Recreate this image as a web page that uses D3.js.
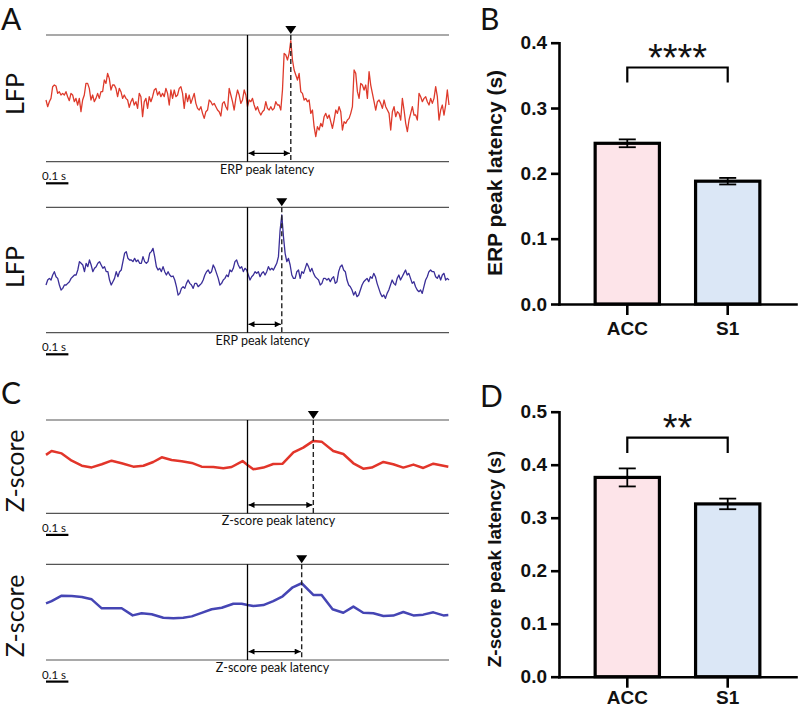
<!DOCTYPE html>
<html>
<head>
<meta charset="utf-8">
<script src="https://cdn.jsdelivr.net/npm/d3@7"></script>
<style>
body { margin: 0; background: #fff; }
svg { display: block; }
</style>
</head>
<body>
<script>
// time window of the example traces (s), stimulus at 0
var traceWindow = [-0.9, 0.9];

// ACC example LFP trace (arbitrary units, evenly sampled over the window)
var accLfp = [
  0,-20,-5,5,40,45,42,20,25,15,
  20,15,25,10,-2,20,15,-5,5,-15,
  5,-35,0,15,50,50,35,0,15,-5,
  5,20,5,25,25,60,50,80,65,30,
  45,45,35,10,35,25,5,15,5,0,
  -22,-5,5,-15,-5,-25,20,10,-50,-5,
  5,-25,10,-5,10,30,35,15,25,10,
  20,10,35,20,-15,30,5,30,10,15,
  35,40,20,-25,20,-5,15,-10,5,20,
  -10,-25,-30,-20,-40,-55,-35,-30,0,-5,
  -15,-10,-20,-30,-35,-48,-10,-5,-20,-30,
  35,15,-5,-30,5,30,15,-10,0,30,
  15,-20,0,
  -5,5,-15,-30,-20,-35,-45,-35,-30,-5,
  -25,-30,-20,-30,-25,-5,-15,-15,-30,30,
  140,135,120,140,178,120,90,75,60,80,
  25,20,0,5,-5,0,-40,-30,-80,-110,
  -80,-90,-70,-80,-50,-40,-55,-45,-65,-85,
  -60,-30,-40,-20,-35,-90,-65,-70,-60,-55,
  -40,-20,90,80,25,5,50,45,30,45,
  5,85,45,20,-5,-30,-5,0,-10,-25,
  0,-20,-30,-40,-90,-35,-20,-50,-35,-40,
  -60,5,-30,-70,-95,-60,-40,-20,-45,-45,
  -60,20,10,-5,5,10,-5,-15,5,-10,
  5,40,10,-60,-30,-15,-45,-15,30,-15
];

// S1 example LFP trace
var s1Lfp = [
  -25,-10,-5,-10,5,15,0,-5,-25,-40,
  -35,-25,-25,-20,-15,-5,0,5,5,20,
  45,40,35,15,40,30,50,35,15,25,
  30,40,45,35,25,30,15,15,-10,-25,
  -15,-5,15,0,15,20,45,70,75,55,
  50,50,45,55,45,50,40,40,60,45,
  40,45,70,75,85,60,30,20,25,15,
  30,15,5,15,5,0,2,-10,-30,-55,
  -50,-35,-30,-35,-20,-10,-20,-25,-35,-20,
  -20,-30,-25,-20,-10,5,15,20,10,15,
  35,25,10,-5,-25,-20,-10,-5,5,0,
  20,15,25,45,50,35,25,30,15,25,
  20,5,
  -10,0,5,15,10,15,0,10,15,5,
  15,30,20,25,20,30,40,60,140,185,
  120,70,45,55,35,5,-5,-5,15,20,
  -5,15,10,25,40,30,15,25,10,0,
  -5,-10,-25,-20,-5,-5,-10,-5,-15,-5,
  0,-20,-15,15,30,35,20,15,-10,-25,
  -30,-40,-55,-45,-60,-55,-40,-25,-15,-10,
  -5,-15,0,-5,10,0,-20,-35,-50,-60,
  -55,-65,-50,-40,-25,-10,-20,-25,-5,5,
  -10,0,10,20,5,10,-5,-20,-15,-30,
  -40,-45,-40,-50,-30,-10,0,15,20,15,
  15,0,-5,5,-10,5,10,-10,-5,-10
];

// example Z-score traces (time in s, z value)
var accZTime = [-0.90,-0.875,-0.83,-0.785,-0.74,-0.696,-0.651,-0.607,-0.562,-0.51,
  -0.465,-0.421,-0.383,-0.339,-0.294,-0.249,-0.205,-0.153,-0.108,-0.071,
  -0.022,0.0,0.026,0.071,0.115,0.157,0.205,0.249,0.294,0.331,
  0.383,0.428,0.473,0.517,0.555,0.607,0.651,0.696,0.741,0.785,0.83,0.897];
var accZ = [0.63,0.84,0.71,0.32,0.05,-0.04,0.13,0.32,0.18,0.00,
  0.05,0.25,0.50,0.36,0.29,0.20,0.00,-0.02,-0.09,-0.02,
  0.30,0.09,-0.14,-0.05,0.14,0.16,0.77,1.02,1.38,1.34,
  0.84,0.68,0.18,-0.11,-0.05,0.25,0.13,-0.05,0.11,-0.07,0.16,0.00];

var s1ZTime = [-0.90,-0.875,-0.83,-0.785,-0.74,-0.696,-0.651,-0.607,-0.562,-0.513,
  -0.473,-0.428,-0.376,-0.331,-0.287,-0.249,-0.205,-0.16,-0.115,-0.063,
  -0.026,0,0.026,0.071,0.115,0.157,0.202,0.242,0.294,0.331,
  0.38,0.428,0.473,0.517,0.562,0.607,0.651,0.696,0.741,0.785,0.83,0.875,0.897];
var s1Z = [0.46,0.58,0.86,0.84,0.79,0.67,0.20,0.20,0.20,-0.17,
  -0.06,-0.11,-0.29,-0.32,-0.29,-0.22,-0.04,0.15,0.23,0.44,
  0.44,0.37,0.32,0.37,0.58,0.83,1.30,1.51,0.90,0.90,
  0.15,-0.03,0.29,-0.03,-0.06,-0.20,-0.18,0.01,-0.17,-0.13,-0.01,-0.17,-0.15];

// bar charts
var groups = ["ACC", "S1"];
var erpMean = [0.246, 0.188];
var erpSem = [0.006, 0.005];
var erpTicks = [0, 0.1, 0.2, 0.3, 0.4];
var zMean = [0.376, 0.326];
var zSem = [0.017, 0.010];
var zTicks = [0, 0.1, 0.2, 0.3, 0.4, 0.5];


var width = 798, height = 709;
var svg = d3.select("body").append("svg")
    .attr("width", width)
    .attr("height", height);

var defs = svg.append("defs");
defs.append("marker")
    .attr("id", "head")
    .attr("viewBox", "0 0 10 10")
    .attr("refX", 10).attr("refY", 5)
    .attr("markerUnits", "userSpaceOnUse")
    .attr("markerWidth", 7).attr("markerHeight", 6)
    .attr("orient", "auto-start-reverse")
  .append("path")
    .attr("d", "M0,0L10,5L0,10z")
    .attr("fill", "#000");

var labelFont = "Lato, 'Open Sans', sans-serif";
var barFont = "Liberation Sans, Arial, Helvetica, sans-serif";

var x = d3.scaleLinear().domain(traceWindow).range([46, 449]);

function timesOf(values) {
  var step = (traceWindow[1] - traceWindow[0]) / (values.length - 1);
  return values.map((v, i) => traceWindow[0] + i * step);
}

var traces = [
  {t: timesOf(accLfp), v: accLfp, top: 35, bottom: 161.7, dom: [-185, 195],
   color: "#de3a2b", lw: 1.3, label: "LFP", labelY: 94, note: "ERP peak latency"},
  {t: timesOf(s1Lfp), v: s1Lfp, top: 207.3, bottom: 332.7, dom: [-168, 208],
   color: "#3a2e98", lw: 1.3, label: "LFP", labelY: 267, note: "ERP peak latency"},
  {t: accZTime, v: accZ, top: 420, bottom: 513.3, dom: [-2.5, 2.5],
   color: "#e2352a", lw: 2.5, label: "Z-score", labelY: 471, note: "Z-score peak latency"},
  {t: s1ZTime, v: s1Z, top: 564.3, bottom: 660, dom: [-2.5, 2.5],
   color: "#4545b4", lw: 2.5, label: "Z-score", labelY: 616, note: "Z-score peak latency"}
];

traces.forEach(function (p) {
  var y = d3.scaleLinear().domain(p.dom).range([p.bottom, p.top]);
  var g = svg.append("g");
  var pts = p.v.map((v, i) => ({t: p.t[i], v: v}));
  var peakT = p.t[d3.maxIndex(p.v)];
  var xp = x(peakT), x0 = x(0);

  // frame lines
  g.selectAll("line.frame")
    .data([p.top, p.bottom])
    .enter().append("line")
      .attr("x1", x.range()[0]).attr("x2", x.range()[1])
      .attr("y1", d => d).attr("y2", d => d)
      .attr("stroke", "#555").attr("stroke-width", 1.2);

  // trace
  g.append("path")
      .datum(pts)
      .attr("fill", "none")
      .attr("stroke", p.color)
      .attr("stroke-width", p.lw)
      .attr("stroke-linejoin", "round")
      .attr("d", d3.line().x(d => x(d.t)).y(d => y(d.v)));

  // stimulus onset
  g.append("line")
      .attr("x1", x0).attr("x2", x0)
      .attr("y1", p.top).attr("y2", p.bottom)
      .attr("stroke", "#000").attr("stroke-width", 1.3);

  // peak marker
  g.append("line")
      .attr("x1", xp).attr("x2", xp)
      .attr("y1", p.top).attr("y2", p.bottom)
      .attr("stroke", "#222").attr("stroke-width", 1.4)
      .attr("stroke-dasharray", "5,3");
  g.append("path")
      .attr("d", `M${xp - 5.5},${p.top - 9}L${xp + 5.5},${p.top - 9}L${xp},${p.top - 1}z`)
      .attr("fill", "#000");

  // latency arrow
  g.append("line")
      .attr("x1", x0 + 1).attr("x2", xp - 1)
      .attr("y1", p.bottom - 8.4).attr("y2", p.bottom - 8.4)
      .attr("stroke", "#000").attr("stroke-width", 1.2)
      .attr("marker-start", "url(#head)")
      .attr("marker-end", "url(#head)");

  g.append("text")
      .attr("x", (x0 + xp) / 2 - 2)
      .attr("y", p.bottom + 12)
      .attr("text-anchor", "middle")
      .attr("font-family", labelFont)
      .attr("font-size", 12.5)
      .attr("fill", "#111")
      .text(p.note);

  // 0.1 s scale bar
  g.append("text")
      .attr("x", 42).attr("y", p.bottom + 18.5)
      .attr("font-family", labelFont)
      .attr("font-size", 11.5)
      .attr("fill", "#111")
      .text("0.1 s");
  g.append("rect")
      .attr("x", x(traceWindow[0]))
      .attr("y", p.bottom + 20.5)
      .attr("width", x(traceWindow[0] + 0.1) - x(traceWindow[0]))
      .attr("height", 2.2)
      .attr("fill", "#000");

  // side label
  g.append("text")
      .attr("transform", `translate(24,${p.labelY}) rotate(-90)`)
      .attr("text-anchor", "middle")
      .attr("font-family", labelFont)
      .attr("font-size", 25)
      .attr("fill", "#111")
      .text(p.label);
});

// panel letters
var letters = [["A", 1, 30], ["B", 480, 30], ["C", 1, 404], ["D", 480, 407]];
svg.selectAll("text.letter")
  .data(letters)
  .enter().append("text")
    .attr("x", d => d[1]).attr("y", d => d[2])
    .attr("font-family", labelFont)
    .attr("font-size", 30)
    .attr("fill", "#111")
    .text(d => d[0]);

var barColors = ["#fde4e9", "#dbe7f6"];

function barPanel(cfg) {
  var y = d3.scaleLinear().domain([0, d3.max(cfg.ticks)]).range([cfg.y0, cfg.y1]);
  var xb = d3.scaleBand().domain(groups).range([559, 796])
      .paddingInner(0.36).paddingOuter(0.36);
  var rows = groups.map((k, i) => ({key: k, mean: cfg.mean[i], sem: cfg.sem[i], fill: barColors[i]}));
  var g = svg.append("g");

  g.selectAll("rect.bar")
    .data(rows)
    .enter().append("rect")
      .attr("x", d => xb(d.key))
      .attr("y", d => y(d.mean))
      .attr("width", xb.bandwidth())
      .attr("height", d => y(0) - y(d.mean))
      .attr("fill", d => d.fill)
      .attr("stroke", "#000")
      .attr("stroke-width", 3.2);

  var cx = d => xb(d.key) + xb.bandwidth() / 2;
  var eb = g.selectAll("g.err").data(rows).enter().append("g")
      .attr("stroke", "#000").attr("stroke-width", 1.8);
  eb.append("line")
      .attr("x1", cx).attr("x2", cx)
      .attr("y1", d => y(d.mean - d.sem)).attr("y2", d => y(d.mean + d.sem));
  eb.append("line")
      .attr("x1", d => cx(d) - 8.5).attr("x2", d => cx(d) + 8.5)
      .attr("y1", d => y(d.mean + d.sem)).attr("y2", d => y(d.mean + d.sem));
  eb.append("line")
      .attr("x1", d => cx(d) - 8.5).attr("x2", d => cx(d) + 8.5)
      .attr("y1", d => y(d.mean - d.sem)).attr("y2", d => y(d.mean - d.sem));

  var yAxis = g.append("g")
      .attr("transform", "translate(559,0)")
      .call(d3.axisLeft(y).tickValues(cfg.ticks).tickFormat(d3.format(".1f"))
        .tickSize(8).tickSizeOuter(0).tickPadding(4));
  var xAxis = g.append("g")
      .attr("transform", `translate(0,${y(0)})`)
      .call(d3.axisBottom(xb).tickSize(11).tickSizeOuter(0).tickPadding(cfg.xPad));
  [yAxis, xAxis].forEach(function (a) {
    a.attr("font-family", barFont);
    a.select(".domain").attr("stroke-width", 2.6).attr("stroke-linecap", "square");
    a.selectAll(".tick line").attr("stroke-width", 2.6);
    a.selectAll(".tick text")
      .attr("font-family", barFont)
      .attr("font-weight", "bold")
      .attr("font-size", 19)
      .attr("fill", "#111");
  });

  // significance bracket
  var xa = cx(rows[0]), xs = cx(rows[1]);
  g.append("path")
      .attr("d", `M${xa},${y(cfg.legY)}V${y(cfg.barY)}H${xs}V${y(cfg.legY)}`)
      .attr("fill", "none")
      .attr("stroke", "#000")
      .attr("stroke-width", 2.2);
  g.append("text")
      .attr("x", (xa + xs) / 2)
      .attr("y", cfg.starY)
      .attr("text-anchor", "middle")
      .attr("font-family", barFont)
      .attr("font-size", 38)
      .attr("fill", "#111")
      .text(cfg.stars);

  g.append("text")
      .attr("transform", `translate(${cfg.titleX},${cfg.titleY}) rotate(-90)`)
      .attr("text-anchor", "middle")
      .attr("font-family", barFont)
      .attr("font-weight", "bold")
      .attr("font-size", cfg.titleSize)
      .attr("fill", "#111")
      .text(cfg.title);
}

barPanel({mean: erpMean, sem: erpSem, ticks: erpTicks, y0: 304, y1: 42.7,
  barY: 0.362, legY: 0.339, stars: "****", starY: 71, xPad: 7,
  title: "ERP peak latency (s)", titleX: 502, titleY: 173, titleSize: 21});
barPanel({mean: zMean, sem: zSem, ticks: zTicks, y0: 676.7, y1: 411.7,
  barY: 0.451, legY: 0.422, stars: "**", starY: 441, xPad: 3,
  title: "Z-score peak latency (s)", titleX: 501, titleY: 559, titleSize: 19});

svg.node();
</script>
</body>
</html>
